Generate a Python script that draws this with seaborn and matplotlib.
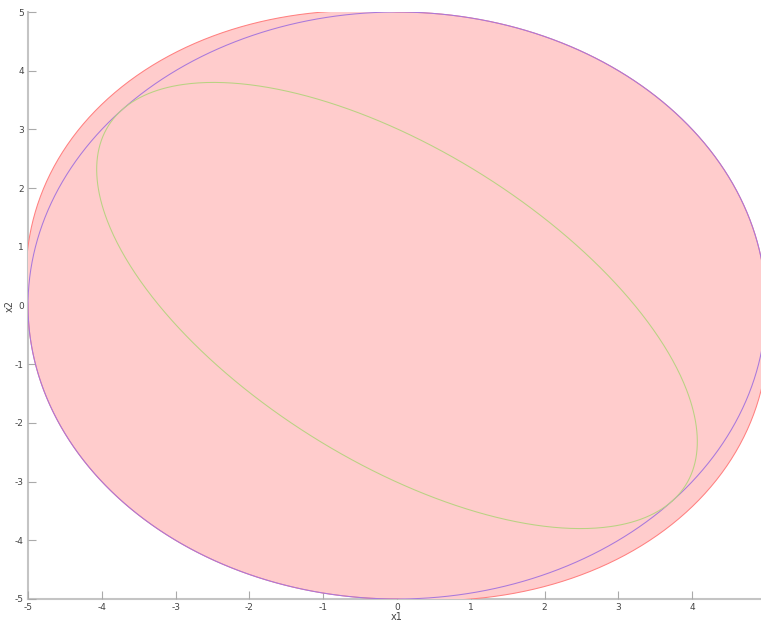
import numpy as np
import pandas as pd
import matplotlib
matplotlib.use("Agg")
import matplotlib.pyplot as plt
import seaborn as sns

# Shapes in the (x1, x2) plane
circle_radius = 5.0
# Quadratic form x' Q x = level bounding the shaded region (together with the circle)
region_Q = [[1.0, 0.1], [0.1, 1.0]]
region_level = 25.0
# Tilted ellipse: semi-axes and orientation (degrees)
ellipse_axes = [5.0, 2.45]
ellipse_angle = -41.8

x_ticks = [-5, -4, -3, -2, -1, 0, 1, 2, 3, 4]
y_ticks = [-5, -4, -3, -2, -1, 0, 1, 2, 3, 4, 5]

sns.set_theme(style="white")
plt.rcParams["font.family"] = ["DejaVu Sans"]

theta = np.linspace(0, 2 * np.pi, 721)
u = np.cos(theta)
v = np.sin(theta)

# boundary of the shaded region: the outer of circle and quadratic-form ellipse
Q = np.array(region_Q)
q = Q[0, 0] * u**2 + 2 * Q[0, 1] * u * v + Q[1, 1] * v**2
r_region = np.maximum(circle_radius, np.sqrt(region_level / q))
region = pd.DataFrame({"x1": r_region * u, "x2": r_region * v})

circle = pd.DataFrame({"x1": circle_radius * u, "x2": circle_radius * v})

a, b = ellipse_axes
phi = np.deg2rad(ellipse_angle)
ex = a * u * np.cos(phi) - b * v * np.sin(phi)
ey = a * u * np.sin(phi) + b * v * np.cos(phi)
ellipse = pd.DataFrame({"x1": ex, "x2": ey})

fig = plt.figure(figsize=(7.61, 6.22), dpi=100)
ax = fig.add_axes([28 / 761, 23 / 622, 738 / 761, 587 / 622])

ax.fill(region["x1"], region["x2"], color="#FFCCCC", lw=0, zorder=1)
sns.lineplot(data=region, x="x1", y="x2", sort=False, estimator=None,
             color="#FF8080", lw=0.75, ax=ax, zorder=2)
sns.lineplot(data=circle, x="x1", y="x2", sort=False, estimator=None,
             color="#A878DC", lw=0.75, ax=ax, zorder=3)
sns.lineplot(data=ellipse, x="x1", y="x2", sort=False, estimator=None,
             color="#B8D282", lw=0.75, ax=ax, zorder=4)

ax.set_xlim(-5, 5)
ax.set_ylim(-5, 5)
ax.set_xticks(x_ticks)
ax.set_yticks(y_ticks)
ax.set_xticklabels([str(t) for t in x_ticks])
ax.set_yticklabels([str(t) for t in y_ticks])

for side in ["top", "right"]:
    ax.spines[side].set_visible(False)
for side in ["left", "bottom"]:
    ax.spines[side].set_color("#C4C4C4")
    ax.spines[side].set_linewidth(1.5)
    ax.spines[side].set_zorder(0.5)

ax.tick_params(axis="both", direction="in", length=6, width=0.8, color="#AAAAAA",
               labelsize=6.5, labelcolor="#444444", pad=3,
               bottom=True, left=True, top=False, right=False)
ax.set_xlabel("x1", fontsize=7, color="#444444", labelpad=0)
ax.set_ylabel("x2", fontsize=7, color="#444444", labelpad=0)
ax.grid(False)

fig.savefig("out.png", dpi=100)
